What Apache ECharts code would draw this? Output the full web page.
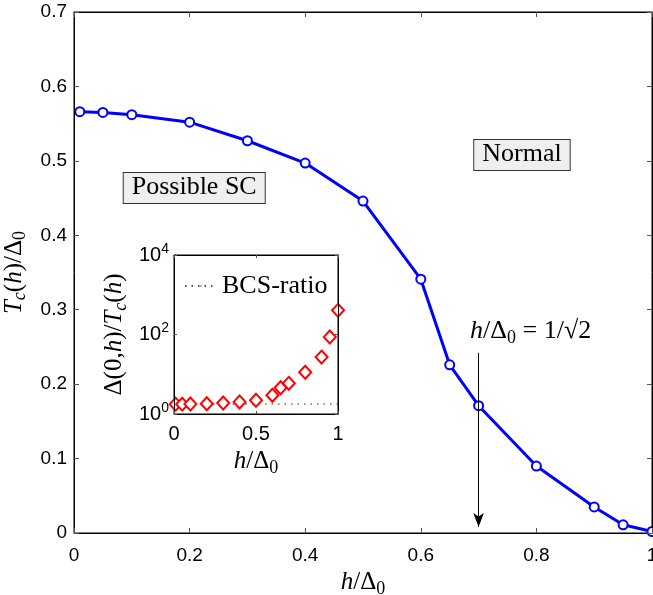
<!DOCTYPE html>
<html>
<head>
<meta charset="utf-8">
<script src="https://cdn.jsdelivr.net/npm/echarts@6/dist/echarts.min.js"></script>
<style>
html,body{margin:0;padding:0;background:#fff;}
#c{width:653px;height:595px;}
</style>
</head>
<body>
<div id="c"></div>
<script>
// ---------- data ----------
const hValues = [0.01, 0.05, 0.1, 0.2, 0.3, 0.4, 0.5, 0.6, 0.65, 0.7, 0.8, 0.9, 0.95, 1.0];
const tcValues = [0.566, 0.565, 0.562, 0.552, 0.527, 0.497, 0.446, 0.341, 0.226, 0.171, 0.090, 0.035, 0.011, 0.002];
const ratioValues = [1.77, 1.77, 1.78, 1.82, 1.90, 2.01, 2.22, 2.95, 4.6, 5.9, 11.2, 27, 87, 405];
const bcsX = [0, 1];
const bcsY = [1.764, 1.764];
const mainXTicks = [0, 0.2, 0.4, 0.6, 0.8, 1];
const mainYTicks = [0, 0.1, 0.2, 0.3, 0.4, 0.5, 0.6, 0.7];
const insetXTicks = [0, 0.5, 1];
const insetYTicks = [1, 100, 10000];
const arrowFrom = [0.7, 0.242];
const arrowTo = [0.7, 0.008];

// ---------- styles ----------
const serif = 'Liberation Serif';
const sans = 'Liberation Sans';
function mathRich(size){
  return {
    i: {fontFamily: serif, fontStyle: 'italic', fontSize: size, lineHeight: size + 6, color: '#000'},
    n: {fontFamily: serif, fontSize: size, lineHeight: size + 6, color: '#000'},
    sub: {fontFamily: serif, fontSize: Math.round(size * 0.7), lineHeight: Math.round(size * 0.55), verticalAlign: 'bottom', color: '#000'},
    subi: {fontFamily: serif, fontStyle: 'italic', fontSize: Math.round(size * 0.7), lineHeight: Math.round(size * 0.55), verticalAlign: 'bottom', color: '#000'}
  };
}
const hLabel = '{i|h}{n|/Δ}{sub|0}';
const tcLabel = '{i|T}{subi|c}{n|(}{i|h}{n|)/Δ}{sub|0}';
const ratioLabel = '{n|Δ(0,}{i|h}{n|)/}{i|T}{subi|c}{n|(}{i|h}{n|)}';

const xy = (xs, ys) => xs.map((x, k) => [x, ys[k]]);
const step = a => +(a[1] - a[0]).toFixed(6);

const mainAxisCommon = {
  z: 10,
  axisLine: {show: true, onZero: false, lineStyle: {color: '#000', width: 1}},
  axisTick: {show: true, inside: true, length: 5, lineStyle: {color: '#555', width: 1}},
  splitLine: {show: false}
};
const insetAxisCommon = {
  z: 10,
  axisLine: {show: true, onZero: false, lineStyle: {color: '#000', width: 1}},
  axisTick: {show: true, inside: true, length: 3, lineStyle: {color: '#555', width: 1}},
  splitLine: {show: false}
};

const option = {
  backgroundColor: '#fff',
  animation: false,
  grid: [
    {left: 74, top: 12, right: 1, bottom: 62, containLabel: false, outerBoundsMode: 'none',
     show: true, backgroundColor: 'transparent', borderColor: '#000', borderWidth: 1},
    {left: 174, top: 255, width: 164, height: 159, containLabel: false, outerBoundsMode: 'none',
     show: true, backgroundColor: '#fff', borderColor: '#000', borderWidth: 1, z: 1}
  ],
  legend: {
    show: true,
    data: ['BCS-ratio'],
    left: 179, top: 268,
    itemWidth: 32, itemHeight: 2, itemGap: 4,
    textStyle: {fontFamily: serif, fontSize: 26, color: '#000'},
    z: 10
  },
  xAxis: [
    Object.assign({}, mainAxisCommon, {
      gridIndex: 0, type: 'value', position: 'bottom',
      min: mainXTicks[0], max: mainXTicks[mainXTicks.length - 1], interval: step(mainXTicks),
      axisLabel: {show: true, margin: 13, fontFamily: sans, fontSize: 19, color: '#000'},
      name: hLabel, nameLocation: 'middle', nameGap: 33,
      nameTextStyle: {rich: mathRich(25)}
    }),
    Object.assign({}, mainAxisCommon, {
      gridIndex: 0, type: 'value', position: 'top',
      min: mainXTicks[0], max: mainXTicks[mainXTicks.length - 1], interval: step(mainXTicks),
      axisLabel: {show: false}
    }),
    Object.assign({}, insetAxisCommon, {
      gridIndex: 1, type: 'value', position: 'bottom',
      min: insetXTicks[0], max: insetXTicks[insetXTicks.length - 1], interval: step(insetXTicks),
      axisLabel: {show: true, margin: 10, fontFamily: sans, fontSize: 20, color: '#000'},
      name: hLabel, nameLocation: 'middle', nameGap: 32,
      nameTextStyle: {rich: mathRich(25)}
    }),
    Object.assign({}, insetAxisCommon, {
      gridIndex: 1, type: 'value', position: 'top',
      min: insetXTicks[0], max: insetXTicks[insetXTicks.length - 1], interval: step(insetXTicks),
      axisLabel: {show: false}
    })
  ],
  yAxis: [
    Object.assign({}, mainAxisCommon, {
      gridIndex: 0, type: 'value', position: 'left',
      min: mainYTicks[0], max: mainYTicks[mainYTicks.length - 1], interval: step(mainYTicks),
      axisLabel: {show: true, margin: 7, fontFamily: sans, fontSize: 19, color: '#000'},
      name: tcLabel, nameLocation: 'middle', nameGap: 42, nameRotate: 90,
      nameTextStyle: {rich: mathRich(25)}
    }),
    Object.assign({}, mainAxisCommon, {
      gridIndex: 0, type: 'value', position: 'right',
      min: mainYTicks[0], max: mainYTicks[mainYTicks.length - 1], interval: step(mainYTicks),
      axisLabel: {show: false}
    }),
    Object.assign({}, insetAxisCommon, {
      gridIndex: 1, type: 'log', logBase: 10, position: 'left',
      min: insetYTicks[0], max: insetYTicks[insetYTicks.length - 1], interval: 2,
      axisLabel: {
        show: true, margin: 5,
        formatter: v => insetYTicks.indexOf(v) >= 0 ? '{b|10}{s|' + Math.round(Math.log10(v)) + '}' : '',
        rich: {
          b: {fontFamily: sans, fontSize: 20, lineHeight: 26, color: '#000'},
          s: {fontFamily: sans, fontSize: 14, lineHeight: 14, verticalAlign: 'top', color: '#000'}
        }
      },
      name: ratioLabel, nameLocation: 'middle', nameGap: 44, nameRotate: 90,
      nameTextStyle: {rich: mathRich(25)}
    }),
    Object.assign({}, insetAxisCommon, {
      gridIndex: 1, type: 'log', logBase: 10, position: 'right',
      min: insetYTicks[0], max: insetYTicks[insetYTicks.length - 1], interval: 2,
      axisLabel: {show: false}
    })
  ],
  series: [
    {
      name: 'Tc', type: 'line', xAxisIndex: 0, yAxisIndex: 0,
      data: xy(hValues, tcValues),
      symbol: 'emptyCircle', symbolSize: 9,
      lineStyle: {color: '#0000ff', width: 3},
      itemStyle: {color: '#0000ff', borderColor: '#0000ff', borderWidth: 3},
      z: 3,
      markLine: {
        silent: true,
        symbol: ['none', 'arrow'], symbolSize: [8, 14],
        lineStyle: {color: '#000', width: 1, type: 'solid'},
        label: {show: false},
        emphasis: {disabled: true},
        data: [[{coord: arrowFrom}, {coord: arrowTo}]]
      }
    },
    {
      name: 'ratio', type: 'scatter', xAxisIndex: 2, yAxisIndex: 2,
      data: xy(hValues, ratioValues),
      symbol: 'emptyDiamond', symbolSize: [12, 13],
      itemStyle: {color: '#ff0000', borderColor: '#ff0000', borderWidth: 3, opacity: 1},
      z: 7
    },
    {
      name: 'BCS-ratio', type: 'line', xAxisIndex: 2, yAxisIndex: 2,
      data: xy(bcsX, bcsY),
      showSymbol: false, symbol: 'none',
      lineStyle: {color: '#555', width: 1.2, type: [1.5, 5]},
      itemStyle: {color: '#555'},
      z: 6
    }
  ]
};

const chart = echarts.init(document.getElementById('c'), null, {renderer: 'canvas'});
chart.setOption(option);

// ---------- annotations placed through the main axes ----------
const annotations = [
  {text: '{t|Normal}', at: [0.775, 0.508], box: true},
  {text: '{t|Possible SC}', at: [0.208, 0.4635], box: true},
  {text: '{i|h}{n|/Δ}{sub|0}{n| = 1/√2}', at: [0.79, 0.271], box: false}
];
const boxRich = {
  t: {fontFamily: serif, fontSize: 26, color: '#000', lineHeight: 29}
};
const graphics = annotations.map(a => {
  const p = chart.convertToPixel({gridIndex: 0}, a.at);
  const rich = a.box ? boxRich : mathRich(26);
  return {
    type: 'text', x: p[0], y: p[1], z: 20,
    style: Object.assign({
      text: a.text, rich: rich, align: 'center', verticalAlign: 'middle'
    }, a.box ? {
      backgroundColor: '#efefef', borderColor: '#333', borderWidth: 1,
      padding: [0, 8, 1, 8]
    } : {})
  };
});
chart.setOption({graphic: graphics});
</script>
</body>
</html>
